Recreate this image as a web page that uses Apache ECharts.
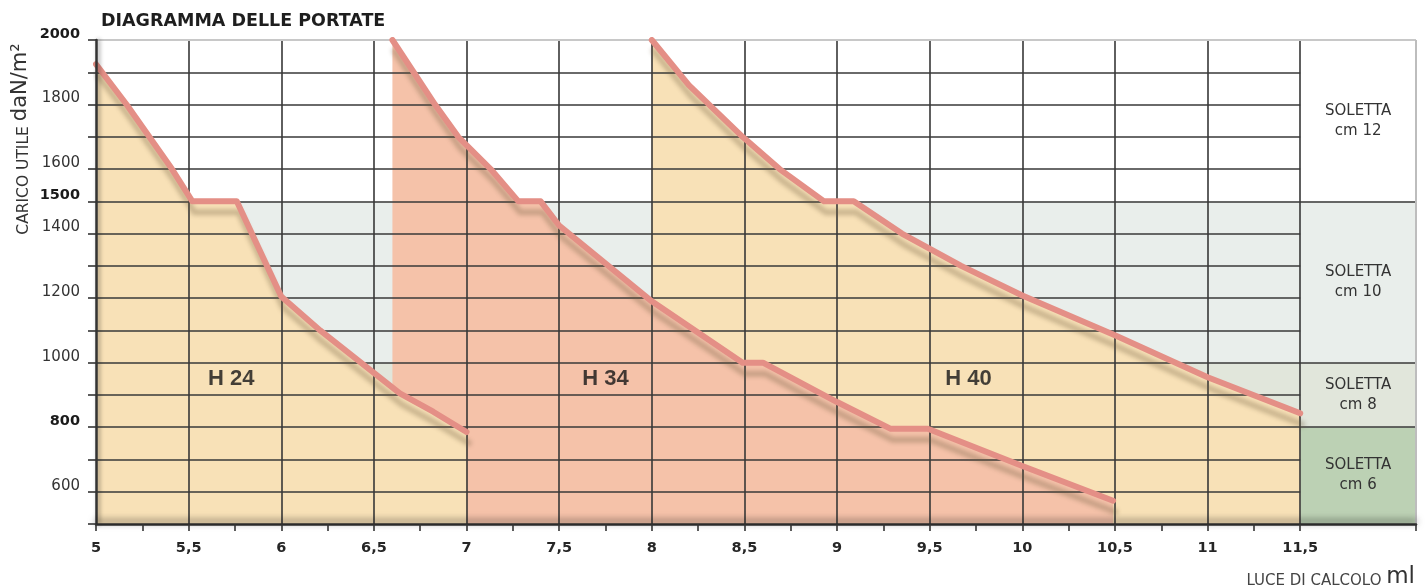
<!DOCTYPE html>
<html><head><meta charset="utf-8">
<script src="https://cdn.jsdelivr.net/npm/echarts@6/dist/echarts.min.js"></script>
<style>html,body{margin:0;padding:0;background:#fff}#c{width:1427px;height:588px}</style>
</head><body><div id="c"></div>
<script>
// ---- content ----
const titleText = 'DIAGRAMMA DELLE PORTATE';
const yNameMain = 'CARICO UTILE ';
const yNameUnit = 'daN/m²';
const xNameMain = 'LUCE DI CALCOLO ';
const xNameUnit = 'ml';

const xTickValues = [5,5.25,5.5,5.75,6,6.25,6.5,6.75,7,7.25,7.5,7.75,8,8.25,8.5,8.75,9,9.25,9.5,9.75,10,10.25,10.5,10.75,11,11.25,11.5,12.125];
const xLabelValues = [5,5.5,6,6.5,7,7.5,8,8.5,9,9.5,10,10.5,11,11.5];
const xGridValues = [5.5,6,6.5,7,7.5,8,8.5,9,9.5,10,10.5,11,11.5];
const yGridValues = [600,700,900,1100,1200,1300,1400,1600,1700,1800,1900];
const yPanelGridValues = [800,1000,1500];
const yLabelValues = [600,800,1000,1200,1400,1500,1600,1800,2000];
const yBoldLabels = [800,1500,2000];

// carico utile (daN/m2) vs luce (m)
const h24 = [[5,1925],[5.165,1800],[5.41,1600],[5.52,1500],[5.76,1500],[6.0,1205],[6.21,1100],[6.43,1000],[6.64,905],[6.82,848],[7.0,785]];
const h34 = [[6.6,2000],[6.83,1800],[6.955,1700],[7.13,1600],[7.28,1500],[7.40,1500],[7.5,1425],[8.0,1190],[8.49,1000],[8.6,1000],[9.0,878],[9.29,795],[9.49,795],[10.0,680],[10.49,572]];
const h40 = [[8.0,2000],[8.2,1860],[8.49,1700],[8.69,1600],[8.93,1500],[9.09,1500],[9.35,1400],[9.67,1300],[10.0,1208],[10.5,1085],[11.0,955],[11.5,843]];

const seriesNames = ['H 24','H 34','H 40'];
const seriesLabelAt = [[5.73,950],[7.75,950],[9.71,950]];

const panelNames = ['SOLETTA\ncm 12','SOLETTA\ncm 10','SOLETTA\ncm 8','SOLETTA\ncm 6'];
const panelRanges = [[1500,2000],[1000,1500],[800,1000],[500,800]];
const panelColors = ['#ffffff','#e9eeeb','#e1e6db','#bcd1b4'];

// ---- chart ----
const X_MIN = 5, X_PANEL = 11.5, X_MAX = 12.125, Y_MIN = 500, Y_MAX = 2000;
const FONT = 'DejaVu Sans';
const GRID_COLOR = '#383838';

const gridLines = [];
xGridValues.forEach(x => gridLines.push([{coord:[x,Y_MIN]},{coord:[x,Y_MAX]}]));
yGridValues.forEach(y => gridLines.push([{coord:[X_MIN,y]},{coord:[X_PANEL,y]}]));
yPanelGridValues.forEach(y => gridLines.push([{coord:[X_MIN,y]},{coord:[X_MAX,y]}]));
gridLines.push([{coord:[X_MIN,Y_MAX],lineStyle:{color:'#c8c8c8',width:2}},{coord:[X_MAX,Y_MAX]}]);
gridLines.push([{coord:[X_MAX,Y_MIN],lineStyle:{color:'#bdbdbd',width:2}},{coord:[X_MAX,Y_MAX]}]);

const bandAreas = [
  [{xAxis:X_MIN,yAxis:1000,itemStyle:{color:panelColors[1]}},{xAxis:X_PANEL,yAxis:1500}],
  [{xAxis:X_MIN,yAxis:800,itemStyle:{color:panelColors[2]}},{xAxis:X_PANEL,yAxis:1000}]
];
panelNames.forEach((n,i) => bandAreas.push([
  {name:n,xAxis:X_PANEL,yAxis:panelRanges[i][0],itemStyle:{color:panelColors[i]}},
  {xAxis:X_MAX,yAxis:panelRanges[i][1]}
]));

const fillColors = ['#f8e1b7','#f5c2a9','#f8e1b7'];
const datasets = [h24,h34,h40];
const fillZ = [3,2,1];

const series = [];
series.push({
  type:'line', data:[], z:0, silent:true,
  markArea:{silent:true, data:bandAreas,
    label:{show:true, position:'inside', fontFamily:FONT, fontSize:15, color:'#333', lineHeight:20, align:'center'}}
});
datasets.forEach((d,i) => {
  series.push({
    type:'line', name:seriesNames[i] + ' area', data:d, z:fillZ[i], silent:true,
    showSymbol:false, symbol:'none', lineStyle:{width:0, opacity:0},
    areaStyle:{color:fillColors[i], opacity:1, origin:'start'}
  });
});
series.push({
  type:'line', data:[], z:4, silent:true,
  markLine:{silent:true, symbol:['none','none'], label:{show:false},
    lineStyle:{color:GRID_COLOR, width:1.6, type:'solid'}, data:gridLines, animation:false}
});
datasets.forEach((d,i) => {
  series.push({
    type:'line', name:seriesNames[i], data:d, z:5, silent:true,
    showSymbol:false, symbol:'none',
    lineStyle:{color:'#e48f86', width:6, cap:'round', join:'round',
      shadowColor:'rgba(110,90,60,0.33)', shadowBlur:4, shadowOffsetX:2, shadowOffsetY:11}
  });
});
series.push({
  type:'scatter', z:6, silent:true, symbolSize:1, itemStyle:{color:'rgba(0,0,0,0)'},
  data: seriesNames.map((n,i) => ({name:n, value:seriesLabelAt[i]})),
  label:{show:true, position:'inside', formatter:p => p.name,
    fontFamily:'Liberation Sans', fontWeight:'bold', fontSize:22, color:'#151515'}
});

const option = {
  animation:false,
  backgroundColor:'#ffffff',
  title:{text:titleText, left:96, top:7,
    textStyle:{fontFamily:FONT, fontWeight:'bold', fontSize:17.5, color:'#1e1e1e'}},
  grid:{left:96, right:11, top:40, bottom:64, containLabel:false},
  xAxis:{type:'value', min:X_MIN, max:X_MAX, z:10,
    axisLine:{show:true, lineStyle:{color:'#2a2a2a', width:2.5, shadowColor:'rgba(0,0,0,0.65)', shadowBlur:7, shadowOffsetY:-3}},
    axisTick:{show:true, length:7, lineStyle:{color:'#333', width:1.6}, customValues:xTickValues},
    axisLabel:{show:true, customValues:xLabelValues, margin:17,
      formatter:v => String(v).replace('.', ','),
      fontFamily:FONT, fontWeight:'bold', fontSize:14.5, color:'#262626'},
    splitLine:{show:false}
  },
  yAxis:{type:'value', min:Y_MIN, max:Y_MAX, interval:100, z:10,
    axisLine:{show:true, lineStyle:{color:'#333', width:2.5, shadowColor:'rgba(0,0,0,0.4)', shadowBlur:4, shadowOffsetX:2}},
    axisTick:{show:true, length:8, inside:false, lineStyle:{color:'#333', width:1.6}},
    axisLabel:{show:true, customValues:yLabelValues, margin:16,
      formatter:v => (yBoldLabels.indexOf(v) >= 0 ? '{b|' + v + '}' : '{n|' + v + '}'),
      verticalAlign:'bottom',
      rich:{
        b:{fontFamily:FONT, fontWeight:'bold', fontSize:14.5, color:'#1a1a1a', lineHeight:12},
        n:{fontFamily:FONT, fontWeight:'normal', fontSize:15, color:'#333', lineHeight:12}
      }},
    splitLine:{show:false}
  },
  graphic:[
    {type:'text', x:21, y:139, rotation:Math.PI/2, silent:true,
      style:{text:'{a|' + yNameMain + '}{b|' + yNameUnit + '}', align:'center', verticalAlign:'middle',
        rich:{a:{fontFamily:FONT, fontSize:15.5, fill:'#333', verticalAlign:'bottom'},
              b:{fontFamily:FONT, fontSize:21, fill:'#333', verticalAlign:'bottom'}}}},
    {type:'text', x:1415, y:577, silent:true,
      style:{text:'{a|' + xNameMain + '}{b|' + xNameUnit + '}', align:'right', verticalAlign:'middle',
        rich:{a:{fontFamily:FONT, fontSize:15, fill:'#444', verticalAlign:'bottom'},
              b:{fontFamily:FONT, fontSize:23, fill:'#333', verticalAlign:'bottom'}}}}
  ],
  series:series
};
const chart = echarts.init(document.getElementById('c'), null, {renderer:'canvas'});
chart.setOption(option);
</script></body></html>
